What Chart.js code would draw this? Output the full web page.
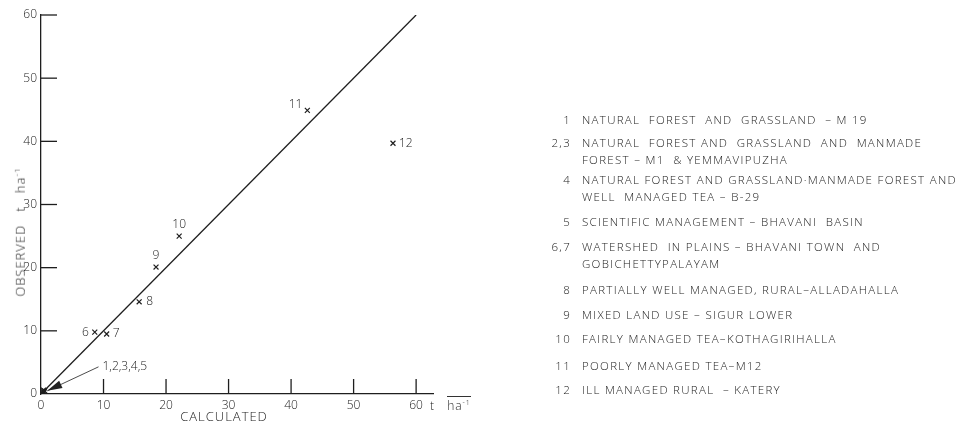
<!DOCTYPE html>
<html>
<head>
<meta charset="utf-8">
<script src="https://cdn.jsdelivr.net/npm/chart.js@4"></script>
<style>
  body { margin: 0; background: #fff; }
  #wrap { position: relative; width: 965px; height: 426px; overflow: hidden; font-family: 'Open Sans', sans-serif; font-weight: 300; color: #222; }
  canvas { position: absolute; left: 0; top: 0; }
  .lbl { position: absolute; white-space: nowrap; letter-spacing: 1px; }
  #ytitle { left: 20px; top: 232px; transform: translate(-50%, -50%) rotate(-90deg); font-size: 13px; }
  #xtitle { left: 224px; top: 416px; transform: translate(-50%, -50%); font-size: 13px; }
  #unit { left: 430px; top: 397px; font-size: 12px; }
  #unit span.ha { display: inline-block; border-top: 1px solid #333; margin-left: 8px; margin-top: -3px; }
  #key { position: absolute; left: 0; top: 0; font-size: 11.5px; letter-spacing: 1.3px; }
  .num { position: absolute; text-align: right; width: 40px; white-space: nowrap; }
  .txt { position: absolute; white-space: pre; }
</style>
</head>
<body>
<div id="wrap">
  <canvas id="c" width="965" height="426"></canvas>
  <div class="lbl" id="ytitle">OBSERVED&nbsp;&nbsp;&nbsp;t&nbsp;&nbsp;&nbsp;ha<sup style="font-size:8px">-1</sup></div>
  <div class="lbl" id="xtitle">CALCULATED</div>
  <div class="lbl" id="unit">t <span class="ha">ha<sup style="font-size:7px">-1</sup></span></div>
  <div id="key"></div>
</div>
<script>
// points (t/ha)
var pointIds   = ['1','2','3','4','5','6','7','8','9','10','11','12'];
var calculated = [0.3, 0.5, 0.4, 0.6, 0.2, 8.6, 10.5, 15.7, 18.4, 22.1, 42.6, 56.3];
var observed   = [0.4, 0.3, 0.6, 0.5, 0.2, 9.8, 9.5, 14.6, 20.1, 25.0, 44.9, 39.7];

// 1:1 line
var lineX = [0, 60];
var lineY = [0, 60];

var xTicks = [0, 10, 20, 30, 40, 50, 60];
var yTicks = [0, 10, 20, 30, 40, 50, 60];

var keyNums = ['1', '2,3', '4', '5', '6,7', '8', '9', '10', '11', '12'];
var keyTexts = [
  ['NATURAL  FOREST  AND  GRASSLAND  \u2013 M 19'],
  ['NATURAL  FOREST AND  GRASSLAND  AND  MANMADE', 'FOREST \u2013 M1  & YEMMAVIPUZHA'],
  ['NATURAL FOREST AND GRASSLAND\u00b7MANMADE FOREST AND', 'WELL  MANAGED TEA \u2013 B-29'],
  ['SCIENTIFIC MANAGEMENT \u2013 BHAVANI  BASIN'],
  ['WATERSHED  IN PLAINS \u2013 BHAVANI TOWN  AND', 'GOBICHETTYPALAYAM'],
  ['PARTIALLY WELL MANAGED, RURAL\u2013ALLADAHALLA'],
  ['MIXED LAND USE \u2013 SIGUR LOWER'],
  ['FAIRLY MANAGED TEA\u2013KOTHAGIRIHALLA'],
  ['POORLY MANAGED TEA\u2013M12'],
  ['ILL MANAGED RURAL  \u2013 KATERY']
];
var keyTops = [120, 143, 180, 222, 247, 290, 315, 339, 366, 390];

// key on the right
var key = document.getElementById('key');
keyNums.forEach(function (n, i) {
  var d = document.createElement('div');
  d.className = 'num';
  d.style.left = '531px';
  d.style.top = (keyTops[i] - 8) + 'px';
  d.textContent = n;
  key.appendChild(d);
  keyTexts[i].forEach(function (t, j) {
    var s = document.createElement('div');
    s.className = 'txt';
    s.style.left = '582px';
    s.style.top = (keyTops[i] - 8 + j * 16.5) + 'px';
    s.textContent = t;
    key.appendChild(s);
  });
});

var pts = calculated.map(function (v, i) { return { x: v, y: observed[i] }; });
var line = lineX.map(function (v, i) { return { x: v, y: lineY[i] }; });

// label placement for each point: [dx, dy, align]
var labelPos = [null, null, null, null, null,
  [-6, 0, 'right'], [6, 0, 'left'], [7, 0, 'left'], [0, -11, 'center'],
  [0, -12, 'center'], [-5, -6, 'right'], [6, 0, 'left']];

var ink = '#1e1e1e';

var extras = {
  id: 'extras',
  afterDraw: function (chart) {
    var ctx = chart.ctx, xs = chart.scales.x, ys = chart.scales.y;
    var x0 = xs.getPixelForValue(0), y0 = ys.getPixelForValue(0);
    ctx.save();
    ctx.strokeStyle = ink;
    ctx.lineWidth = 1.3;
    // inward ticks
    xTicks.forEach(function (t) {
      if (t === 0) return;
      var px = xs.getPixelForValue(t);
      ctx.beginPath(); ctx.moveTo(px, y0); ctx.lineTo(px, y0 - 15); ctx.stroke();
    });
    yTicks.forEach(function (t) {
      if (t === 0) return;
      var py = ys.getPixelForValue(t);
      ctx.beginPath(); ctx.moveTo(x0, py); ctx.lineTo(x0 + 16, py); ctx.stroke();
    });
    // point labels
    ctx.fillStyle = '#222';
    ctx.font = '300 12px "Open Sans"';
    ctx.textBaseline = 'middle';
    pts.forEach(function (p, i) {
      var lp = labelPos[i];
      if (!lp) return;
      ctx.textAlign = lp[2];
      ctx.fillText(pointIds[i], xs.getPixelForValue(p.x) + lp[0], ys.getPixelForValue(p.y) + lp[1]);
    });
    // arrow to the cluster of points 1-5
    var tx = xs.getPixelForValue(9.2), ty = ys.getPixelForValue(4.3);
    var hx = xs.getPixelForValue(1.0), hy = ys.getPixelForValue(0.5);
    ctx.lineWidth = 0.8;
    ctx.beginPath(); ctx.moveTo(tx, ty); ctx.lineTo(hx, hy); ctx.stroke();
    var ang = Math.atan2(ty - hy, tx - hx);
    ctx.beginPath();
    ctx.moveTo(hx, hy);
    ctx.lineTo(hx + 15 * Math.cos(ang) - 4 * Math.sin(ang), hy + 15 * Math.sin(ang) + 4 * Math.cos(ang));
    ctx.lineTo(hx + 15 * Math.cos(ang) + 4 * Math.sin(ang), hy + 15 * Math.sin(ang) - 4 * Math.cos(ang));
    ctx.closePath(); ctx.fill();
    ctx.textAlign = 'left';
    ctx.fillText(pointIds.slice(0, 5).join(','), tx + 4, ty);
    ctx.restore();
  }
};

Chart.defaults.font.family = '"Open Sans", sans-serif';
Chart.defaults.font.weight = 300;
Chart.defaults.color = '#222';

new Chart(document.getElementById('c'), {
  type: 'scatter',
  data: {
    datasets: [
      {
        type: 'line',
        data: line,
        borderColor: ink,
        borderWidth: 1.3,
        pointRadius: 0,
        fill: false
      },
      {
        data: pts,
        pointStyle: 'crossRot',
        pointRadius: 3.5,
        borderColor: ink,
        borderWidth: 1.2
      }
    ]
  },
  options: {
    responsive: false,
    animation: false,
    layout: { padding: { left: 0, top: 15, right: 532, bottom: 0 } },
    plugins: { legend: { display: false }, tooltip: { enabled: false } },
    scales: {
      x: {
        type: 'linear',
        min: 0, max: 62.7,
        afterBuildTicks: function (s) { s.ticks = xTicks.map(function (v) { return { value: v }; }); },
        afterFit: function (s) { s.height = 32; },
        grid: { display: true, drawOnChartArea: false, drawTicks: false },
        border: { display: true, color: ink, width: 1.3 },
        ticks: { padding: 4, font: { size: 12 }, maxRotation: 0 }
      },
      y: {
        type: 'linear',
        min: 0, max: 60,
        afterBuildTicks: function (s) { s.ticks = yTicks.map(function (v) { return { value: v }; }); },
        afterFit: function (s) { s.width = 41; },
        grid: { display: true, drawOnChartArea: false, drawTicks: false },
        border: { display: true, color: ink, width: 1.3 },
        ticks: { padding: 4, font: { size: 12 } }
      }
    }
  },
  plugins: [extras]
});
</script>
</body>
</html>
